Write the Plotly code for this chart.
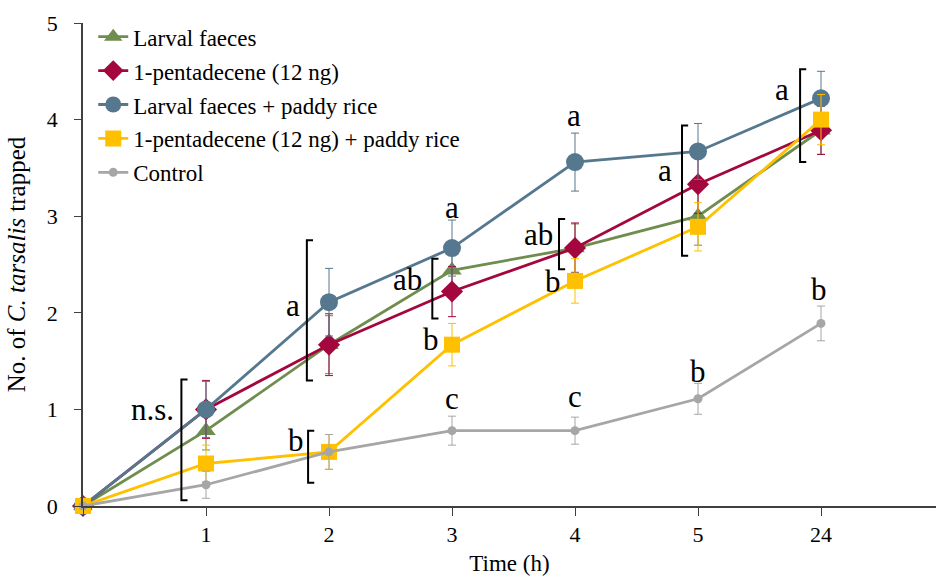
import plotly.graph_objects as go

# ---------------- data ----------------
x_pos = [0, 1, 2, 3, 4, 5, 6]
x_labels = ["", "1", "2", "3", "4", "5", "24"]

larval_faeces = [0, 0.78, 1.67, 2.44, 2.67, 3.00, 3.89]
larval_faeces_err = [0, 0.20, 0.30, 0.25, 0.25, 0.30, 0.25]

pentadecene = [0, 1.00, 1.67, 2.22, 2.67, 3.33, 3.89]
pentadecene_err = [0, 0.30, 0.32, 0.26, 0.26, 0.30, 0.25]

faeces_rice = [0, 1.00, 2.11, 2.67, 3.56, 3.67, 4.22]
faeces_rice_err = [0, 0.29, 0.35, 0.29, 0.30, 0.29, 0.28]

pentadecene_rice = [0, 0.44, 0.56, 1.67, 2.33, 2.89, 4.00]
pentadecene_rice_err = [0, 0.19, 0.18, 0.22, 0.23, 0.25, 0.26]

control = [0, 0.22, 0.56, 0.78, 0.78, 1.11, 1.89]
control_err = [0, 0.14, 0.18, 0.15, 0.14, 0.16, 0.18]

series_names = ["Larval faeces", "1-pentadecene (12 ng)", "Larval faeces + paddy rice",
                "1-pentadecene (12 ng) + paddy rice", "Control"]

# significance letters: (text, x, y)
letters = [
    ("n.s.", 0.565, 1.00),
    ("a", 1.71, 2.08), ("b", 1.73, 0.68),
    ("a", 3.00, 3.09), ("ab", 2.64, 2.34), ("b", 2.83, 1.72), ("c", 3.00, 1.11),
    ("a", 3.99, 4.04), ("ab", 3.70, 2.81), ("b", 3.82, 2.32), ("c", 4.00, 1.13),
    ("a", 4.73, 3.47), ("b", 5.00, 1.39),
    ("a", 5.68, 4.31), ("b", 5.98, 2.24),
]
# brackets: (x, y_top, y_bottom)
brackets = [
    (0.80, 1.31, 0.06),
    (1.82, 2.75, 1.30),
    (1.83, 0.78, 0.24),
    (2.84, 2.56, 1.94),
    (3.87, 2.97, 2.45),
    (4.87, 3.94, 2.59),
    (5.83, 4.52, 3.56),
]

# ---------------- styles ----------------
FONT = "Liberation Serif"
styles = [
    dict(color="#6E8D4E", symbol="triangle-up", size=17),
    dict(color="#A3073E", symbol="diamond", size=17),
    dict(color="#56788F", symbol="circle", size=18),
    dict(color="#FFC000", symbol="square", size=16),
    dict(color="#A6A6A6", symbol="circle", size=9),
]
values = [larval_faeces, pentadecene, faeces_rice, pentadecene_rice, control]
errors = [larval_faeces_err, pentadecene_err, faeces_rice_err, pentadecene_rice_err, control_err]

fig = go.Figure()
for i, (name, y, e, st) in enumerate(zip(series_names, values, errors, styles)):
    fig.add_trace(go.Scatter(
        x=x_pos, y=y, name=name, mode="lines+markers",
        line=dict(color=st["color"], width=2.8),
        marker=dict(color=st["color"], symbol=st["symbol"], size=st["size"]),
        error_y=dict(type="data", array=e, visible=True, color=st["color"],
                     thickness=1, width=4),
        legendgroup=f"g{i}", cliponaxis=False,
    ))

for txt, x, y in letters:
    fig.add_annotation(x=x, y=y, text=txt, showarrow=False,
                       font=dict(family=FONT, size=31, color="black"))

w = 0.05
for x, yt, yb in brackets:
    fig.add_shape(type="path", xref="x", yref="y",
                  path=f"M {x + w},{yt} L {x},{yt} L {x},{yb} L {x + w},{yb}",
                  line=dict(color="black", width=2))

fig.update_layout(
    width=936, height=578,
    margin=dict(l=83, r=0, t=23, b=72),
    plot_bgcolor="white", paper_bgcolor="white",
    font=dict(family=FONT, size=22, color="black"),
    showlegend=True,
    legend=dict(x=0.012, y=1.016, xanchor="left", yanchor="top",
                bgcolor="rgba(0,0,0,0)", font=dict(family=FONT, size=23),
                tracegroupgap=1, itemwidth=30),
    xaxis=dict(range=[0, 6.935], tickmode="array", tickvals=x_pos, ticktext=x_labels,
               showline=True, linecolor="#404040", linewidth=1.5,
               ticks="outside", ticklen=8, tickcolor="#404040",
               showgrid=False, zeroline=False,
               title=dict(text="Time (h)", font=dict(family=FONT, size=23), standoff=9)),
    yaxis=dict(range=[0, 5], tickvals=[0, 1, 2, 3, 4, 5],
               showline=True, linecolor="#404040", linewidth=1.5,
               ticks="outside", ticklen=7, tickcolor="#404040",
               showgrid=False, zeroline=False, ticklabelstandoff=12,
               title=dict(text="No. of <i>C. tarsalis</i> trapped",
                          font=dict(family=FONT, size=25), standoff=14)),
)

fig.write_html("out.html")
